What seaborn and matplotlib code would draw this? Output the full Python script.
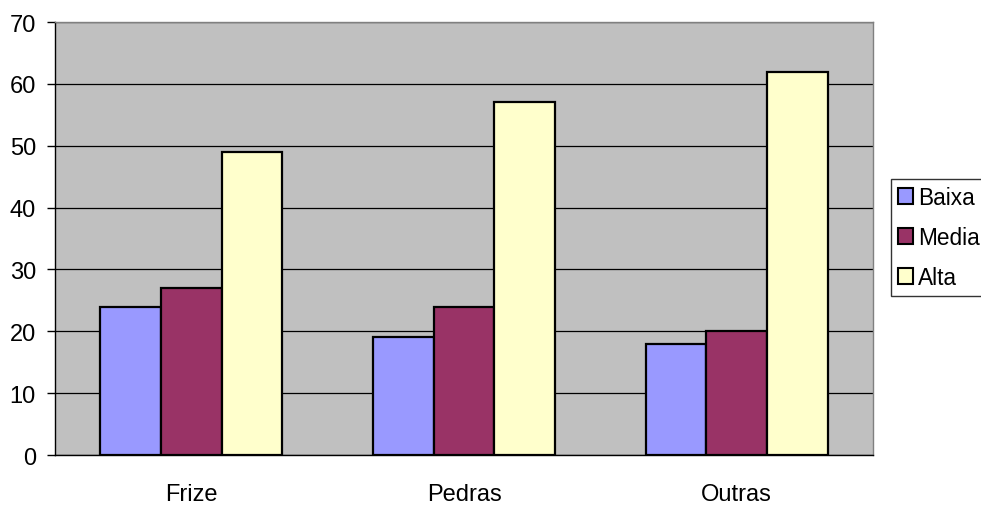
import matplotlib
matplotlib.use("Agg")
import matplotlib.pyplot as plt
import seaborn as sns
import pandas as pd
from matplotlib.patches import Patch

categories = ["Frize", "Pedras", "Outras"]
series = ["Baixa", "Media", "Alta"]
baixa = [24, 19, 18]
media = [27, 24, 20]
alta = [49, 57, 62]
yticks = [0, 10, 20, 30, 40, 50, 60, 70]
colors = ["#9999FF", "#993366", "#FFFFCC"]

df = pd.DataFrame({
    "categoria": categories * 3,
    "nivel": [s for s in series for _ in categories],
    "valor": baixa + media + alta,
})

sns.set_style("white")
plt.rcParams["font.family"] = ["Liberation Sans", "DejaVu Sans"]
plt.rcParams["text.color"] = "black"
plt.rcParams["xtick.color"] = "black"
plt.rcParams["ytick.color"] = "black"
plt.rcParams["xtick.labelcolor"] = "black"
plt.rcParams["ytick.labelcolor"] = "black"

fig = plt.figure(figsize=(9.81, 5.06), dpi=100)
ax = fig.add_axes([0.0561, 0.0988, 0.8339, 0.8557])
ax.set_facecolor("#C0C0C0")

sns.barplot(data=df, x="categoria", y="valor", hue="nivel", order=categories,
            hue_order=series, palette=colors, width=0.667, ax=ax,
            edgecolor="black", linewidth=1.6, saturation=1, legend=False,
            zorder=3)

ax.set_ylim(0, 70)
ax.set_xlim(-0.5, 2.5)
ax.set_yticks(yticks)
ax.set_yticklabels([str(t) for t in yticks], fontsize=17)
ax.grid(axis="y", color="black", linewidth=0.9, zorder=1)
ax.set_axisbelow(True)
ax.set_xlabel("")
ax.set_ylabel("")

ax.set_xticks(range(len(categories)))
ax.set_xticklabels(categories, fontsize=17)
ax.tick_params(axis="x", which="major", length=0, pad=20)
ax.set_xticks([-0.5, 0.5, 1.5, 2.5], minor=True)
ax.tick_params(axis="x", which="minor", length=5.8, width=1, color="black",
               direction="out")
ax.tick_params(axis="y", length=5.8, width=1, color="black", direction="out",
               pad=8, left=True)

for side in ["left", "bottom"]:
    ax.spines[side].set_color("black")
    ax.spines[side].set_linewidth(1)
for side in ["top", "right"]:
    ax.spines[side].set_color("#808080")
    ax.spines[side].set_linewidth(1)

handles = [Patch(facecolor=c, edgecolor="black", linewidth=1.5) for c in colors]
leg = fig.legend(handles, series, loc="upper left",
                 bbox_to_anchor=(0.908, 0.644), frameon=True, fancybox=False,
                 fontsize=16.3, handlelength=0.7, handleheight=0.7,
                 handletextpad=0.2, labelspacing=0.75, borderpad=0.3,
                 borderaxespad=0)
leg.get_frame().set_edgecolor("black")
leg.get_frame().set_linewidth(1)

fig.savefig("out.png", dpi=100, facecolor="white")
